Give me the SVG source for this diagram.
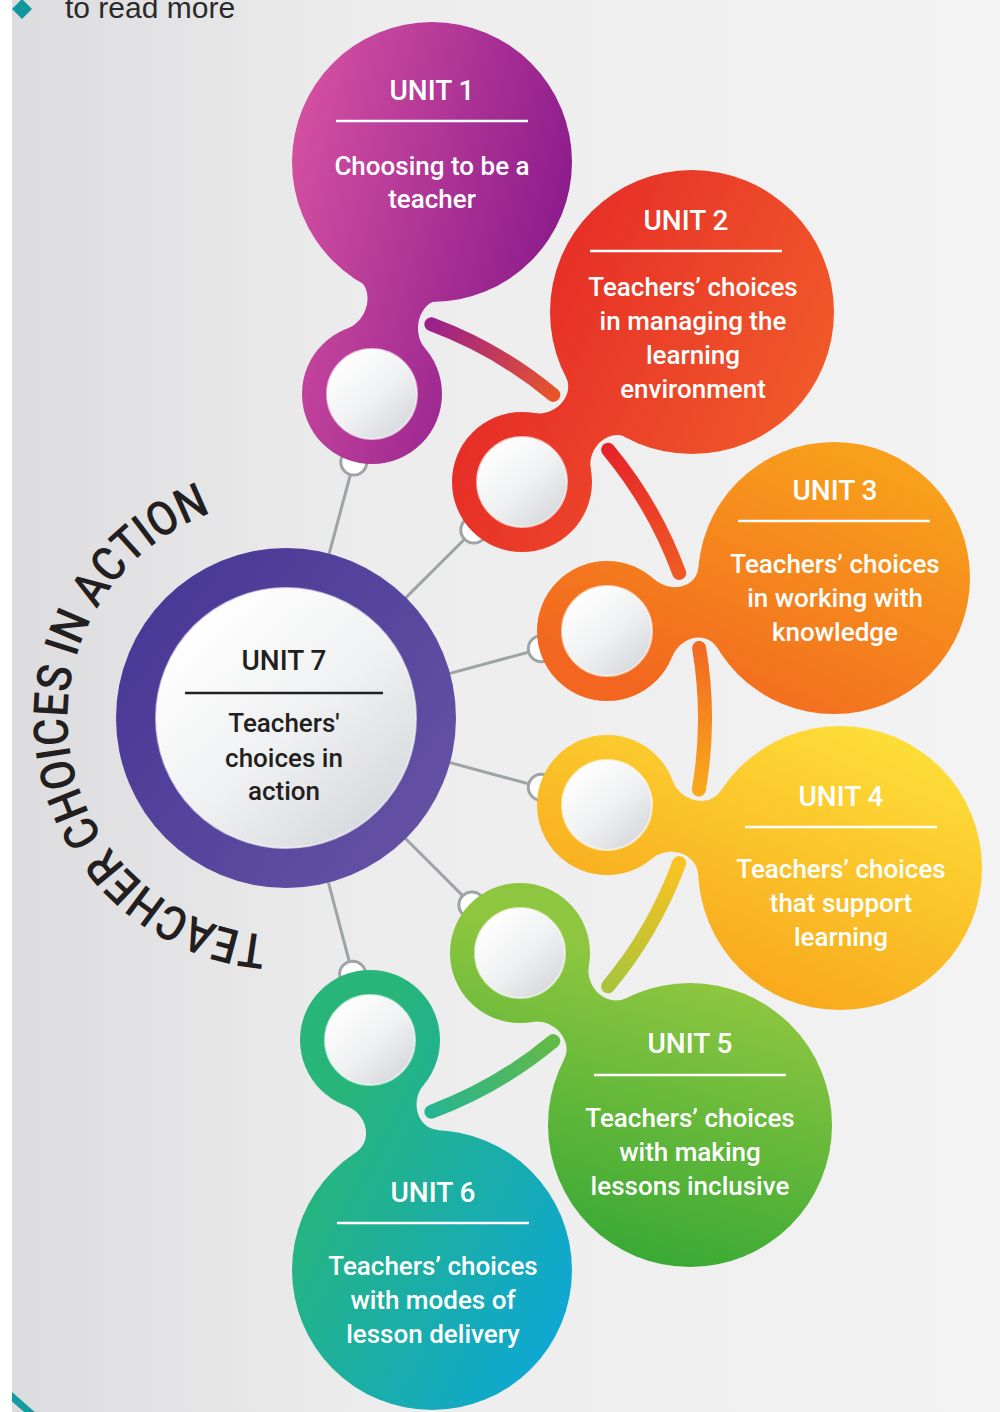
<svg xmlns="http://www.w3.org/2000/svg" width="1000" height="1412" viewBox="0 0 1000 1412">
<defs>
<style>
.hd{font-family:Roboto,"Liberation Sans",sans-serif;font-size:28px;font-weight:500;text-anchor:middle;fill:#ffffff}
.bd{font-family:Roboto,"Liberation Sans",sans-serif;font-size:26px;font-weight:500;text-anchor:middle;fill:#ffffff}
.dk{fill:#231f20}
.arc{font-family:Roboto,"Liberation Sans",sans-serif;font-size:48px;font-weight:500;fill:#231f20}
.rule{stroke:#ffffff;stroke-width:2.5}
.rule-dk{stroke:#231f20;stroke-width:2.5}
.conn{stroke:#9ea4a5;stroke-width:3;fill:none}
.dot{fill:#ffffff;stroke:#9ea4a5;stroke-width:3}
.bar{fill:none;stroke-width:14;stroke-linecap:round}
.hole{fill:url(#hole);stroke:#ffffff;stroke-opacity:0.6;stroke-width:2}
</style>
<linearGradient id="bg" x1="0" y1="0" x2="1" y2="0">
<stop offset="0" stop-color="#dcdcde"/><stop offset="0.35" stop-color="#ececed"/><stop offset="1" stop-color="#f3f3f3"/>
</linearGradient>
<linearGradient id="hole" x1="0.15" y1="0.1" x2="0.9" y2="0.95">
<stop offset="0" stop-color="#ffffff"/><stop offset="0.5" stop-color="#f0f1f2"/><stop offset="1" stop-color="#d3d6da"/>
</linearGradient>
<linearGradient id="g1" gradientUnits="userSpaceOnUse" x1="295" y1="130" x2="575" y2="200"><stop offset="0" stop-color="#d34fa1"/><stop offset="1" stop-color="#8b1b8b"/></linearGradient>
<linearGradient id="g2" gradientUnits="userSpaceOnUse" x1="470" y1="260" x2="820" y2="420"><stop offset="0" stop-color="#e42427"/><stop offset="1" stop-color="#f15b2a"/></linearGradient>
<linearGradient id="g3" gradientUnits="userSpaceOnUse" x1="830" y1="440" x2="700" y2="720"><stop offset="0" stop-color="#f8a01c"/><stop offset="1" stop-color="#f2661f"/></linearGradient>
<linearGradient id="g4" gradientUnits="userSpaceOnUse" x1="880" y1="730" x2="760" y2="1010"><stop offset="0" stop-color="#fdde38"/><stop offset="1" stop-color="#f8a61b"/></linearGradient>
<linearGradient id="g5" gradientUnits="userSpaceOnUse" x1="720" y1="985" x2="640" y2="1265"><stop offset="0" stop-color="#8ec63f"/><stop offset="1" stop-color="#38a935"/></linearGradient>
<linearGradient id="g6" gradientUnits="userSpaceOnUse" x1="300" y1="1180" x2="570" y2="1320"><stop offset="0" stop-color="#27b57a"/><stop offset="1" stop-color="#0ea7d3"/></linearGradient>
<linearGradient id="g7" gradientUnits="userSpaceOnUse" x1="120" y1="600" x2="450" y2="840"><stop offset="0" stop-color="#463795"/><stop offset="1" stop-color="#6653a5"/></linearGradient>
<linearGradient id="b12" gradientUnits="userSpaceOnUse" x1="431" y1="324" x2="553" y2="395"><stop offset="0" stop-color="#9a208c"/><stop offset="1" stop-color="#e8532b"/></linearGradient>
<linearGradient id="b23" gradientUnits="userSpaceOnUse" x1="608" y1="450" x2="679" y2="573"><stop offset="0" stop-color="#e6232a"/><stop offset="1" stop-color="#ef5a24"/></linearGradient>
<linearGradient id="b34" gradientUnits="userSpaceOnUse" x1="699" y1="648" x2="699" y2="790"><stop offset="0" stop-color="#f26a22"/><stop offset="1" stop-color="#f8a81c"/></linearGradient>
<linearGradient id="b45" gradientUnits="userSpaceOnUse" x1="679" y1="863" x2="608" y2="986"><stop offset="0" stop-color="#fac320"/><stop offset="1" stop-color="#a9c43b"/></linearGradient>
<linearGradient id="b56" gradientUnits="userSpaceOnUse" x1="553" y1="1041" x2="431" y2="1112"><stop offset="0" stop-color="#63ba47"/><stop offset="1" stop-color="#26b592"/></linearGradient>
<path id="arcText" d="M267,935.2 A218,218 0 0,1 286,500"/>
<clipPath id="panelClip"><rect x="12" y="0" width="988" height="1412"/></clipPath>
</defs>

<rect x="0" y="0" width="1000" height="1412" fill="#ffffff"/>
<rect x="12" y="0" width="988" height="1412" fill="url(#bg)"/>

<g id="page-fragments" clip-path="url(#panelClip)">
<polygon points="12,9 22,-1 32,9 22,19" fill="#12979c"/>
<text x="65" y="18" font-family="'Liberation Sans',Arial,sans-serif" font-size="30" fill="#2a2a2a">to read more</text>
<line x1="10" y1="1395" x2="34" y2="1416" stroke="#139c9f" stroke-width="7"/>
</g>

<g id="title-arc">
<text class="arc"><textPath href="#arcText" startOffset="0" textLength="187" lengthAdjust="spacingAndGlyphs">TEACHER</textPath></text>
<text class="arc"><textPath href="#arcText" startOffset="197.5" textLength="176.6" lengthAdjust="spacingAndGlyphs">CHOICES</textPath></text>
<text class="arc"><textPath href="#arcText" startOffset="384.8" textLength="205.2" lengthAdjust="spacingAndGlyphs">IN ACTION</textPath></text>
</g>

<g id="connectors">
<line class="conn" x1="329.1" y1="553.8" x2="353.8" y2="462"/>
<line class="conn" x1="405.4" y1="598.1" x2="473.8" y2="530"/>
<line class="conn" x1="449.1" y1="673.6" x2="541.3" y2="648.7"/>
<line class="conn" x1="449.1" y1="762.4" x2="541.3" y2="787.3"/>
<line class="conn" x1="405.2" y1="838.2" x2="471.9" y2="904.9"/>
<line class="conn" x1="328.4" y1="882.4" x2="352.6" y2="974.2"/>
<circle class="dot" cx="353.8" cy="462" r="13"/>
<circle class="dot" cx="473.8" cy="530" r="13"/>
<circle class="dot" cx="541.3" cy="648.7" r="13"/>
<circle class="dot" cx="541.3" cy="787.3" r="13"/>
<circle class="dot" cx="471.9" cy="904.9" r="13"/>
<circle class="dot" cx="352.6" cy="974.2" r="13"/>
<path class="bar" stroke="url(#b12)" d="M431.4,324.3 A420,420 0 0,1 553.3,394.9"/>
<path class="bar" stroke="url(#b23)" d="M608.1,449.7 A420,420 0 0,1 679.2,573"/>
<path class="bar" stroke="url(#b34)" d="M699.1,648 A420,420 0 0,1 698.9,789.5"/>
<path class="bar" stroke="url(#b45)" d="M679.2,863 A420,420 0 0,1 608.1,986.3"/>
<path class="bar" stroke="url(#b56)" d="M553.3,1041.1 A420,420 0 0,1 431.4,1111.7"/>
</g>

<g id="unit7">
<circle cx="286" cy="718" r="170" fill="url(#g7)"/>
<circle cx="286" cy="718" r="130" class="hole"/>
<text class="hd dk" x="284" y="670">UNIT 7</text>
<line class="rule-dk" x1="185" y1="693" x2="383" y2="693"/>
<text class="bd dk" x="284" y="732">Teachers'</text>
<text class="bd dk" x="284" y="767">choices in</text>
<text class="bd dk" x="284" y="800">action</text>
</g>

<g id="unit1">
<circle cx="432" cy="162" r="140" fill="url(#g1)"/>
<path fill="url(#g1)" d="M347.31,328.5 C367.88,320.77 375.59,289.92 357.04,278.14 L440.92,299.68 C418.99,301.06 410.88,331.81 425.19,348.5 Z"/>
<circle cx="372" cy="394" r="70" fill="url(#g1)"/>
<circle cx="372" cy="394" r="45" class="hole"/>
<text class="hd" x="432" y="100">UNIT 1</text>
<line class="rule" x1="336" y1="121" x2="528" y2="121"/>
<text class="bd" x="432" y="175">Choosing to be a</text>
<text class="bd" x="432" y="208">teacher</text>
</g>

<g id="unit2">
<circle cx="692" cy="312" r="142" fill="url(#g2)"/>
<path fill="url(#g2)" d="M533.84,413.02 C555.5,416.76 575.65,395.33 565.61,375.78 L627.91,437.64 C608.29,427.75 587,448.04 590.9,469.66 Z"/>
<circle cx="522" cy="482" r="70" fill="url(#g2)"/>
<circle cx="522" cy="482" r="45" class="hole"/>
<text class="hd" x="686" y="230">UNIT 2</text>
<line class="rule" x1="590" y1="251" x2="782" y2="251"/>
<text class="bd" x="693" y="296">Teachers’ choices</text>
<text class="bd" x="693" y="330">in managing the</text>
<text class="bd" x="693" y="364">learning</text>
<text class="bd" x="693" y="398">environment</text>
</g>

<g id="unit3">
<circle cx="834" cy="578" r="136" fill="url(#g3)"/>
<path fill="url(#g3)" d="M653.7,578.86 C670.05,593.53 696.7,588.46 698.58,566.56 L717.62,648.38 C706.26,629.56 680.11,636.77 671.92,657.16 Z"/>
<circle cx="607" cy="631" r="70" fill="url(#g3)"/>
<circle cx="607" cy="631" r="45" class="hole"/>
<text class="hd" x="835" y="500">UNIT 3</text>
<line class="rule" x1="738" y1="521" x2="930" y2="521"/>
<text class="bd" x="835" y="573">Teachers’ choices</text>
<text class="bd" x="835" y="607">in working with</text>
<text class="bd" x="835" y="641">knowledge</text>
</g>

<g id="unit4">
<circle cx="840" cy="868" r="142" fill="url(#g4)"/>
<path fill="url(#g4)" d="M672.79,781.12 C680.27,801.78 709.15,808.74 721.17,790.34 L698.29,875.1 C697.17,853.16 668.71,844.64 651.85,858.74 Z"/>
<circle cx="607" cy="805" r="70" fill="url(#g4)"/>
<circle cx="607" cy="805" r="45" class="hole"/>
<text class="hd" x="841" y="806">UNIT 4</text>
<line class="rule" x1="745" y1="827" x2="937" y2="827"/>
<text class="bd" x="841" y="878">Teachers’ choices</text>
<text class="bd" x="841" y="912">that support</text>
<text class="bd" x="841" y="946">learning</text>
</g>

<g id="unit5">
<circle cx="690" cy="1125" r="142" fill="url(#g5)"/>
<path fill="url(#g5)" d="M588.87,965.45 C584.95,987.06 606.69,1007.9 626.32,998.03 L563.92,1059.79 C573.99,1040.26 553.39,1018.3 531.73,1022.01 Z"/>
<circle cx="520" cy="953" r="70" fill="url(#g5)"/>
<circle cx="520" cy="953" r="45" class="hole"/>
<text class="hd" x="690" y="1053">UNIT 5</text>
<line class="rule" x1="594" y1="1075" x2="786" y2="1075"/>
<text class="bd" x="690" y="1127">Teachers’ choices</text>
<text class="bd" x="690" y="1161">with making</text>
<text class="bd" x="690" y="1195">lessons inclusive</text>
</g>

<g id="unit6">
<circle cx="432" cy="1270" r="140" fill="url(#g6)"/>
<path fill="url(#g6)" d="M423.74,1084.85 C409.64,1101.71 417.24,1129.07 439.19,1130.19 L355.57,1152.75 C373.98,1140.75 366.78,1113.27 346.12,1105.79 Z"/>
<circle cx="370" cy="1040" r="70" fill="url(#g6)"/>
<circle cx="370" cy="1040" r="45" class="hole"/>
<text class="hd" x="433" y="1202">UNIT 6</text>
<line class="rule" x1="337" y1="1223" x2="529" y2="1223"/>
<text class="bd" x="433" y="1275">Teachers’ choices</text>
<text class="bd" x="433" y="1309">with modes of</text>
<text class="bd" x="433" y="1343">lesson delivery</text>
</g>
</svg>
